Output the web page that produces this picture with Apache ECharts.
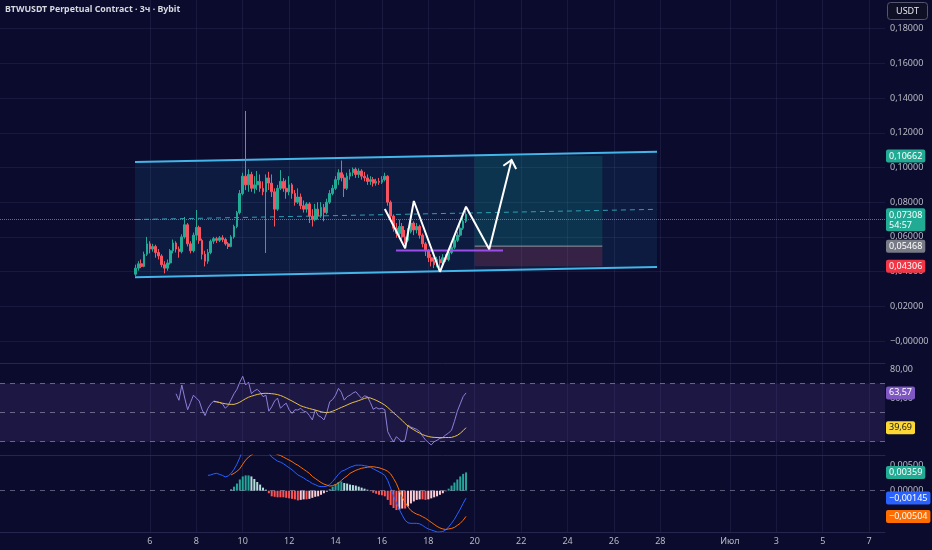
<!DOCTYPE html>
<html>
<head>
<meta charset="utf-8">
<script src="https://cdn.jsdelivr.net/npm/echarts@6.0.0/dist/echarts.min.js"></script>
<style>
  html, body { margin: 0; padding: 0; background: #0b0b2d; }
  #chart { width: 932px; height: 550px; }
</style>
</head>
<body>
<div id="chart"></div>
<script>
// 3h bars, slot 0 = 1 June 00:00
const firstSlot = 35;
// [open, close, low, high]
const candles = [
  [0.0385, 0.0420, 0.0375, 0.0440], [0.0420, 0.0445, 0.0405, 0.0460], [0.0445, 0.0430, 0.0420, 0.0470],
  [0.0430, 0.0500, 0.0425, 0.0515], [0.0500, 0.0560, 0.0490, 0.0600], [0.0560, 0.0530, 0.0505, 0.0575],
  [0.0530, 0.0545, 0.0515, 0.0560], [0.0545, 0.0510, 0.0480, 0.0555], [0.0510, 0.0490, 0.0470, 0.0530],
  [0.0490, 0.0440, 0.0425, 0.0500], [0.0440, 0.0420, 0.0390, 0.0460], [0.0420, 0.0450, 0.0405, 0.0470],
  [0.0450, 0.0520, 0.0440, 0.0530], [0.0520, 0.0565, 0.0505, 0.0585], [0.0565, 0.0530, 0.0510, 0.0575],
  [0.0530, 0.0515, 0.0480, 0.0545], [0.0515, 0.0600, 0.0505, 0.0615], [0.0600, 0.0670, 0.0590, 0.0715],
  [0.0670, 0.0560, 0.0545, 0.0680], [0.0560, 0.0520, 0.0505, 0.0575], [0.0520, 0.0610, 0.0510, 0.0625],
  [0.0610, 0.0655, 0.0580, 0.0755], [0.0655, 0.0580, 0.0560, 0.0665], [0.0580, 0.0500, 0.0470, 0.0590],
  [0.0500, 0.0460, 0.0430, 0.0520], [0.0460, 0.0510, 0.0445, 0.0530], [0.0510, 0.0575, 0.0500, 0.0585],
  [0.0575, 0.0590, 0.0560, 0.0600], [0.0590, 0.0580, 0.0565, 0.0600], [0.0580, 0.0595, 0.0570, 0.0605],
  [0.0595, 0.0585, 0.0570, 0.0610], [0.0585, 0.0560, 0.0550, 0.0595], [0.0560, 0.0545, 0.0530, 0.0570],
  [0.0545, 0.0600, 0.0540, 0.0610], [0.0600, 0.0660, 0.0590, 0.0670], [0.0660, 0.0740, 0.0650, 0.0750],
  [0.0740, 0.0850, 0.0730, 0.0870], [0.0850, 0.0950, 0.0840, 0.0970], [0.0950, 0.0900, 0.0870, 0.1326],
  [0.0900, 0.0960, 0.0860, 0.0990], [0.0960, 0.0880, 0.0860, 0.0975], [0.0880, 0.0900, 0.0850, 0.0950],
  [0.0900, 0.0920, 0.0870, 0.0980], [0.0920, 0.0880, 0.0860, 0.0960], [0.0880, 0.0860, 0.0840, 0.0920],
  [0.0860, 0.0940, 0.0507, 0.0960], [0.0940, 0.0910, 0.0870, 0.0975], [0.0910, 0.0860, 0.0830, 0.0960],
  [0.0860, 0.0760, 0.0660, 0.0880], [0.0760, 0.0880, 0.0750, 0.0900], [0.0880, 0.0920, 0.0870, 0.0985],
  [0.0920, 0.0880, 0.0860, 0.0940], [0.0880, 0.0860, 0.0820, 0.0930], [0.0860, 0.0900, 0.0840, 0.0950],
  [0.0900, 0.0850, 0.0820, 0.0910], [0.0850, 0.0800, 0.0780, 0.0870], [0.0800, 0.0830, 0.0790, 0.0880],
  [0.0830, 0.0780, 0.0760, 0.0850], [0.0780, 0.0760, 0.0740, 0.0810], [0.0760, 0.0790, 0.0740, 0.0800],
  [0.0790, 0.0720, 0.0680, 0.0800], [0.0720, 0.0700, 0.0660, 0.0760], [0.0700, 0.0760, 0.0690, 0.0790],
  [0.0760, 0.0720, 0.0700, 0.0800], [0.0720, 0.0770, 0.0710, 0.0800], [0.0770, 0.0740, 0.0690, 0.0790],
  [0.0740, 0.0800, 0.0730, 0.0820], [0.0800, 0.0850, 0.0790, 0.0870], [0.0850, 0.0880, 0.0840, 0.0900],
  [0.0880, 0.0930, 0.0870, 0.0950], [0.0930, 0.0970, 0.0900, 0.0990], [0.0970, 0.0940, 0.0920, 0.1040],
  [0.0940, 0.0880, 0.0830, 0.0960], [0.0880, 0.0950, 0.0870, 0.0970], [0.0950, 0.0970, 0.0930, 0.0990],
  [0.0970, 0.0990, 0.0950, 0.1000], [0.0990, 0.0960, 0.0940, 0.1000], [0.0960, 0.0980, 0.0940, 0.0995],
  [0.0980, 0.0950, 0.0930, 0.0990], [0.0950, 0.0940, 0.0920, 0.0975], [0.0940, 0.0920, 0.0900, 0.0960],
  [0.0920, 0.0930, 0.0900, 0.0950], [0.0930, 0.0910, 0.0890, 0.0945], [0.0910, 0.0920, 0.0895, 0.0935],
  [0.0920, 0.0915, 0.0900, 0.0940], [0.0915, 0.0930, 0.0905, 0.0950], [0.0930, 0.0950, 0.0920, 0.0970],
  [0.0950, 0.0800, 0.0780, 0.0955], [0.0800, 0.0720, 0.0700, 0.0810], [0.0720, 0.0650, 0.0630, 0.0730],
  [0.0650, 0.0620, 0.0595, 0.0680], [0.0620, 0.0660, 0.0590, 0.0700], [0.0660, 0.0600, 0.0580, 0.0680],
  [0.0600, 0.0580, 0.0560, 0.0640], [0.0580, 0.0630, 0.0570, 0.0650], [0.0630, 0.0680, 0.0620, 0.0700],
  [0.0680, 0.0640, 0.0610, 0.0690], [0.0640, 0.0660, 0.0620, 0.0680], [0.0660, 0.0610, 0.0590, 0.0670],
  [0.0610, 0.0560, 0.0540, 0.0620], [0.0560, 0.0520, 0.0490, 0.0570], [0.0520, 0.0480, 0.0455, 0.0530],
  [0.0480, 0.0460, 0.0430, 0.0500], [0.0460, 0.0440, 0.0420, 0.0480], [0.0440, 0.0470, 0.0425, 0.0485],
  [0.0470, 0.0450, 0.0420, 0.0490], [0.0450, 0.0480, 0.0440, 0.0500], [0.0480, 0.0470, 0.0455, 0.0500],
  [0.0470, 0.0510, 0.0460, 0.0520], [0.0510, 0.0540, 0.0500, 0.0555], [0.0540, 0.0580, 0.0530, 0.0600],
  [0.0580, 0.0610, 0.0570, 0.0630], [0.0610, 0.0650, 0.0600, 0.0670], [0.0650, 0.0690, 0.0640, 0.0710],
  [0.0690, 0.07308, 0.0680, 0.0750]
];

const rsiFirst = 49;
const rsi = [
  63, 58.5, 69, 60, 52, 57, 62, 60, 58, 52, 48, 53, 56, 58, 57.5, 57, 56, 53, 55, 59,
  63, 66, 71, 75, 69, 71, 63, 65, 66, 64, 61, 62, 51, 54, 58, 60, 53, 55, 56.5, 52,
  49.5, 52, 51.8, 53, 51, 50.5, 48, 45, 51.8, 48, 47, 45, 50, 57.5, 59, 62, 66.7, 64, 58.6, 61,
  62, 63.5, 64.4, 62, 59.8, 61.5, 61, 57, 52.3, 53.5, 52.5, 53, 52, 37, 33, 30, 33.5, 31.5, 30, 31.3,
  41.5, 40, 39.3, 38.5, 37, 34, 31.3, 29.5, 27.8, 30, 31, 32.4, 33, 34.7, 36, 38, 44, 51, 56, 61, 63.57
];
const rsiMaFirst = 62;
const rsiMa = [
  57.6, 57.4, 57.0, 56.5, 56.1, 55.8, 55.7, 55.7, 56.3, 57.2, 58.4, 59.6, 60.6, 61.3, 61.9, 62.5, 62.9, 63.2, 63.3, 63.2,
  63.0, 62.8, 62.4, 61.8, 61.0, 60.0, 59.0, 58.0, 56.9, 55.8, 54.7, 54.0, 53.4, 52.8, 52.3, 51.8, 51.2, 50.6, 50.2, 50.0,
  50.3, 51.0, 51.8, 52.7, 53.6, 54.4, 55.3, 56.2, 57.0, 57.6, 58.3, 59.0, 59.8, 60.3, 60.1, 59.3, 58.5, 57.5, 56.4, 55.2,
  53.6, 51.8, 49.8, 48.2, 46.4, 44.6, 42.5, 40.8, 39.4, 38.2, 37.0, 35.9, 34.9, 34.2, 33.6, 33.2, 33.0, 32.9, 32.8, 32.8,
  32.9, 32.9, 33.0, 33.6, 34.4, 35.8, 37.6, 39.69
];

const macdFirst = 60;
const macd = [
  0.0030, 0.0031, 0.0033, 0.0034, 0.0032, 0.0030, 0.0027, 0.0029, 0.0034, 0.0042,
  0.0052, 0.0065, 0.0080, 0.0090, 0.0096, 0.0098, 0.0097, 0.0095, 0.0092, 0.0087,
  0.0082, 0.0074, 0.0066, 0.0062, 0.0058, 0.0056, 0.0053, 0.0049, 0.0045, 0.0041,
  0.0036, 0.0031, 0.0028, 0.0025, 0.0021, 0.0018, 0.0014, 0.0012, 0.0009, 0.0008,
  0.0008, 0.0009, 0.0012, 0.0018, 0.0025, 0.0032, 0.0038, 0.0040, 0.0043, 0.0046,
  0.0048, 0.0050, 0.0050, 0.0050, 0.0049, 0.0048, 0.0046, 0.0043, 0.0040, 0.0037,
  0.0034, 0.0030, 0.0020, 0.0005, -0.0010, -0.0024, -0.0037, -0.0048, -0.0058, -0.0063,
  -0.0064, -0.0064, -0.0064, -0.0065, -0.0068, -0.0072, -0.0075, -0.0077, -0.0079, -0.0081,
  -0.0081, -0.0080, -0.0077, -0.0071, -0.0064, -0.0056, -0.0046, -0.0036, -0.0025, -0.00145
];
const signalFirst = 68;
const signal = [
  0.0031, 0.0034, 0.0038, 0.0043, 0.0052, 0.0060, 0.0066, 0.0070, 0.0074, 0.0078,
  0.0080, 0.0081, 0.0080, 0.0079, 0.0077, 0.0074, 0.0071, 0.0069, 0.0066, 0.0063,
  0.0060, 0.0057, 0.0053, 0.0050, 0.0046, 0.0042, 0.0038, 0.0034, 0.0028, 0.0024,
  0.0020, 0.0016, 0.0013, 0.0011, 0.0009, 0.0010, 0.0012, 0.0015, 0.0020, 0.0025,
  0.0029, 0.0034, 0.0037, 0.0040, 0.0042, 0.0044, 0.0045, 0.0046, 0.0047, 0.0047,
  0.0046, 0.0045, 0.0043, 0.0041, 0.0038, 0.0033, 0.0024, 0.0014, 0.0000, -0.0013,
  -0.0023, -0.0032, -0.0039, -0.0043, -0.0046, -0.0048, -0.0051, -0.0054, -0.0058, -0.0062,
  -0.0066, -0.0070, -0.0073, -0.0075, -0.0076, -0.0075, -0.0074, -0.0072, -0.0068, -0.0064,
  -0.0058, -0.00504
];
const histFirst = 68;
const hist = [
  0.0003, 0.0008, 0.0014, 0.0022, 0.0028, 0.0030, 0.0030, 0.0028, 0.0023, 0.0017,
  0.0012, 0.0006, 0.0002, -0.0005, -0.0011, -0.0012, -0.0013, -0.0013, -0.0013, -0.0014,
  -0.0015, -0.0016, -0.0017, -0.0019, -0.0018, -0.0017, -0.0017, -0.0016, -0.0014, -0.0012,
  -0.0011, -0.0008, -0.0005, -0.0002, 0.0003, 0.0008, 0.0013, 0.0017, 0.0018, 0.0015,
  0.0014, 0.0012, 0.0011, 0.0010, 0.0008, 0.0006, 0.0004, 0.0002, -0.0001, -0.0004,
  -0.0006, -0.0008, -0.0009, -0.0011, -0.0018, -0.0028, -0.0034, -0.0038, -0.0037, -0.0035,
  -0.0035, -0.0031, -0.0025, -0.0021, -0.0018, -0.0017, -0.0017, -0.0018, -0.0017, -0.0015,
  -0.0013, -0.0011, -0.0008, -0.0005, -0.0001, 0.0004, 0.0010, 0.0016, 0.0022, 0.0028,
  0.0033, 0.00359
];

// drawings, [slot, price]
const channelUpper = [[34.85, 0.1032], [214.85, 0.1091]];
const channelLower = [[34.85, 0.0367], [214.85, 0.0427]];
const channelMid = [[34.85, 0.0700], [214.85, 0.0759]];
const zigzag = [[121, 0.0761], [128, 0.0534], [131, 0.0807], [140, 0.0399], [149, 0.0774], [157, 0.0529], [164.7, 0.1043]];
const purpleLevel = [[124.85, 0.0521], [161.75, 0.0521]];
const positionSlots = [152, 196];
const targetPrice = 0.10662;
const entryPrice = 0.05468;
const stopPrice = 0.04306;
const countdown = '54:57';

const xTickSlots = [40, 56, 72, 88, 104, 120, 136, 152, 168, 184, 200, 216, 240, 256, 272, 288];
const xTickLabels = ['6', '8', '10', '12', '14', '16', '18', '20', '22', '24', '26', '28', 'Июл', '3', '5', '7'];
const priceTicks = [0, 0.02, 0.04, 0.06, 0.08, 0.10, 0.12, 0.14, 0.16, 0.18];
const rsiTicks = [40, 60, 80];
const rsiLevels = [30, 50, 70];
const macdTicks = [0, 0.005];

const FONT = "'Noto Sans', sans-serif";
const FS = 9;
const TXT = '#b8bac4';
const GRID = 'rgba(110,110,175,0.14)';
const UP = '#22ab94';
const DOWN = '#f7525f';
const X_MIN = -11.7;
const X_MAX = 293.47;

const fmt = (v, d) => v.toFixed(d).replace('.', ',').replace('-', '−');
const series = (first, arr) => arr.map((v, k) => [first + k, v]);
const last = arr => arr[arr.length - 1];

const xAxis = (gridIndex, showLabels) => ({
    type: 'value', gridIndex, min: X_MIN, max: X_MAX,
    axisLine: { show: true, onZero: false, lineStyle: { color: '#25254e' } },
    axisTick: { show: false, customValues: xTickSlots },
    splitLine: { show: true, lineStyle: { color: GRID } },
    axisLabel: {
        show: showLabels, customValues: xTickSlots, margin: 5,
        color: TXT, fontSize: FS, fontFamily: FONT,
        formatter: v => xTickLabels[xTickSlots.indexOf(v)] || '',
    },
});
const grid = (top, height) => ({ left: 0, right: 47, top, height, outerBoundsMode: 'none', containLabel: false });

const chart = echarts.init(document.getElementById('chart'));
chart.setOption({
    animation: false,
    backgroundColor: '#0b0b2d',
    textStyle: { fontFamily: FONT },
    title: {
        text: 'BTWUSDT Perpetual Contract · 3ч · Bybit', left: 5, top: 5, padding: 0,
        textStyle: { color: '#d6d8e0', fontSize: 8.8, fontWeight: 'bold', fontFamily: FONT },
    },
    grid: [grid(0, 363), grid(363, 92), grid(455, 77)],
    xAxis: [xAxis(0, false), xAxis(1, false), xAxis(2, true)],
    yAxis: [
        {
            type: 'value', gridIndex: 0, position: 'right', min: -0.01268, max: 0.19654,
            axisLine: { show: false }, axisTick: { show: false, customValues: priceTicks },
            splitLine: { show: true, lineStyle: { color: GRID } },
            axisLabel: {
                customValues: priceTicks, margin: 5, color: TXT, fontSize: FS, fontFamily: FONT,
                formatter: v => (v === 0 ? '−' : '') + fmt(v, 5),
            },
        },
        {
            type: 'value', gridIndex: 1, position: 'right', min: 20.89, max: 84.12,
            axisLine: { show: false }, axisTick: { show: false, customValues: rsiTicks },
            splitLine: { show: false },
            axisLabel: { customValues: rsiTicks, margin: 5, color: TXT, fontSize: FS, fontFamily: FONT, formatter: v => fmt(v, 2) },
        },
        {
            type: 'value', gridIndex: 2, position: 'right', min: -0.0081, max: 0.0070,
            axisLine: { show: false }, axisTick: { show: false, customValues: macdTicks },
            splitLine: { show: false },
            axisLabel: { customValues: macdTicks, margin: 5, color: TXT, fontSize: FS, fontFamily: FONT, formatter: v => fmt(v, 5) },
        },
    ],
    series: [
        {
            name: 'channelFill', type: 'custom', xAxisIndex: 0, yAxisIndex: 0, z: 1, silent: true,
            data: [channelUpper[0]],
            renderItem: (params, api) => ({
                type: 'polygon',
                shape: { points: channelUpper.concat(channelLower.slice().reverse()).map(p => api.coord(p)) },
                style: { fill: 'rgba(38,166,218,0.11)' },
            }),
        },
        {
            name: 'position', type: 'line', xAxisIndex: 0, yAxisIndex: 0, z: 2, data: [],
            markArea: {
                silent: true,
                data: [
                    [{ xAxis: positionSlots[0], yAxis: targetPrice, itemStyle: { color: 'rgba(8,153,129,0.2)' } },
                     { xAxis: positionSlots[1], yAxis: entryPrice }],
                    [{ xAxis: positionSlots[0], yAxis: entryPrice, itemStyle: { color: 'rgba(242,54,69,0.2)' } },
                     { xAxis: positionSlots[1], yAxis: stopPrice }],
                ],
            },
        },
        {
            name: 'entry', type: 'line', xAxisIndex: 0, yAxisIndex: 0, z: 3, symbol: 'none', silent: true,
            data: positionSlots.map(s => [s, entryPrice]),
            lineStyle: { color: '#9598a1', width: 1 },
        },
        {
            name: 'channelUpper', type: 'line', xAxisIndex: 0, yAxisIndex: 0, z: 3, symbol: 'none', silent: true,
            data: channelUpper, lineStyle: { color: '#43b5e8', width: 2 },
        },
        {
            name: 'channelLower', type: 'line', xAxisIndex: 0, yAxisIndex: 0, z: 3, symbol: 'none', silent: true,
            data: channelLower, lineStyle: { color: '#43b5e8', width: 2 },
        },
        {
            name: 'channelMid', type: 'line', xAxisIndex: 0, yAxisIndex: 0, z: 3, symbol: 'none', silent: true,
            data: channelMid, lineStyle: { color: '#2b9fb3', width: 1, type: [5, 4] },
        },
        {
            name: 'price', type: 'candlestick', xAxisIndex: 0, yAxisIndex: 0, z: 4,
            barWidth: 2.2,
            data: candles.map((c, k) => [firstSlot + k].concat(c)),
            itemStyle: { color: UP, color0: DOWN, borderColor: UP, borderColor0: DOWN, borderWidth: 1 },
            markLine: {
                silent: true, symbol: ['none', 'none'],
                data: [{ yAxis: last(candles)[1], lineStyle: { color: UP, type: 'dotted', width: 1, opacity: 0.85 }, label: { show: false } }],
            },
        },
        {
            name: 'purple', type: 'line', xAxisIndex: 0, yAxisIndex: 0, z: 5, symbol: 'none', silent: true,
            data: purpleLevel, lineStyle: { color: '#9b4dea', width: 2 },
        },
        {
            name: 'zigzag', type: 'line', xAxisIndex: 0, yAxisIndex: 0, z: 6, symbol: 'none', silent: true,
            data: zigzag, lineStyle: { color: '#ffffff', width: 2 },
        },
        {
            name: 'arrowHead', type: 'custom', xAxisIndex: 0, yAxisIndex: 0, z: 6, silent: true,
            data: [last(zigzag)],
            renderItem: (params, api) => {
                const a = api.coord(zigzag[zigzag.length - 2]);
                const b = api.coord(last(zigzag));
                const ang = Math.atan2(a[1] - b[1], a[0] - b[0]);
                const len = 10, spread = 0.72;
                return {
                    type: 'polyline',
                    shape: { points: [
                        [b[0] + len * Math.cos(ang + spread), b[1] + len * Math.sin(ang + spread)],
                        b,
                        [b[0] + len * Math.cos(ang - spread), b[1] + len * Math.sin(ang - spread)],
                    ] },
                    style: { stroke: '#ffffff', lineWidth: 2, fill: null },
                };
            },
        },
        {
            name: 'RSI', type: 'line', xAxisIndex: 1, yAxisIndex: 1, z: 4, symbol: 'none', silent: true,
            data: series(rsiFirst, rsi), lineStyle: { color: '#8e7fd8', width: 1 },
            markArea: {
                silent: true,
                data: [[{ yAxis: rsiLevels[0], itemStyle: { color: 'rgba(126,87,194,0.16)' } }, { yAxis: rsiLevels[2] }]],
            },
            markLine: {
                silent: true, symbol: ['none', 'none'],
                data: rsiLevels.map(v => ({ yAxis: v, lineStyle: { color: 'rgba(170,170,195,0.55)', type: [5, 5], width: 1 }, label: { show: false } })),
            },
        },
        {
            name: 'RSI MA', type: 'line', xAxisIndex: 1, yAxisIndex: 1, z: 4, symbol: 'none', silent: true,
            data: series(rsiMaFirst, rsiMa), lineStyle: { color: '#e9c24a', width: 1 },
        },
        {
            name: 'Histogram', type: 'bar', xAxisIndex: 2, yAxisIndex: 2, z: 3, barWidth: 2, silent: true,
            data: series(histFirst, hist),
            itemStyle: {
                color: p => {
                    const v = hist[p.dataIndex];
                    const prev = p.dataIndex > 0 ? hist[p.dataIndex - 1] : 0;
                    if (v >= 0) return v >= prev ? '#26a69a' : '#b2dfdb';
                    return v <= prev ? '#ff5252' : '#ffcdd2';
                },
            },
            markLine: {
                silent: true, symbol: ['none', 'none'],
                data: [{ yAxis: 0, lineStyle: { color: 'rgba(170,170,195,0.5)', type: [5, 5], width: 1 }, label: { show: false } }],
            },
        },
        {
            name: 'MACD', type: 'line', xAxisIndex: 2, yAxisIndex: 2, z: 4, symbol: 'none', silent: true,
            data: series(macdFirst, macd), lineStyle: { color: '#2962ff', width: 1 },
        },
        {
            name: 'Signal', type: 'line', xAxisIndex: 2, yAxisIndex: 2, z: 4, symbol: 'none', silent: true,
            data: series(signalFirst, signal), lineStyle: { color: '#ff6d00', width: 1 },
        },
    ],
});

// price-scale tags, placed through each pane's own y scale
const tags = [
    { axis: 0, value: targetPrice, text: fmt(targetPrice, 5), bg: UP },
    { axis: 0, value: last(candles)[1], text: fmt(last(candles)[1], 5) + '\n' + countdown, bg: UP, top: true },
    { axis: 0, value: entryPrice, text: fmt(entryPrice, 5), bg: '#787b86' },
    { axis: 0, value: stopPrice, text: fmt(stopPrice, 5), bg: '#f23645' },
    { axis: 1, value: last(rsi), text: fmt(last(rsi), 2), bg: '#7e57c2' },
    { axis: 1, value: last(rsiMa), text: fmt(last(rsiMa), 2), bg: '#fdd835', fg: '#131722' },
    { axis: 2, value: last(hist), text: fmt(last(hist), 5), bg: '#22ab94' },
    { axis: 2, value: last(macd), text: fmt(last(macd), 5), bg: '#2962ff' },
    { axis: 2, value: last(signal), text: fmt(last(signal), 5), bg: '#ff6d00' },
];
const tagX = chart.convertToPixel({ xAxisIndex: 0 }, X_MAX) + 1;
chart.setOption({
    graphic: [
        {
            type: 'group', id: 'usdt', right: 4, top: 2,
            children: [
                { type: 'rect', shape: { x: 0, y: 0, width: 40, height: 17, r: 3 }, style: { fill: '#0f0f26', stroke: '#55556e', lineWidth: 1 } },
                { type: 'text', x: 20, y: 9, style: { text: 'USDT', fill: '#e6e6ee', fontSize: FS, fontFamily: FONT, align: 'center', verticalAlign: 'middle' } },
            ],
        },
    ].concat(tags.map((t, k) => {
        const y = chart.convertToPixel({ yAxisIndex: t.axis }, t.value);
        return {
            type: 'text', id: 'tag' + k, x: tagX, y: t.top ? y - 6 : y, z: 100,
            style: {
                text: t.text, fill: t.fg || '#ffffff', backgroundColor: t.bg,
                padding: [2, 3, 1, 3], borderRadius: 2, fontSize: FS, lineHeight: 10, fontFamily: FONT,
                verticalAlign: t.top ? 'top' : 'middle', align: 'left',
            },
        };
    })),
});
</script>
</body>
</html>
